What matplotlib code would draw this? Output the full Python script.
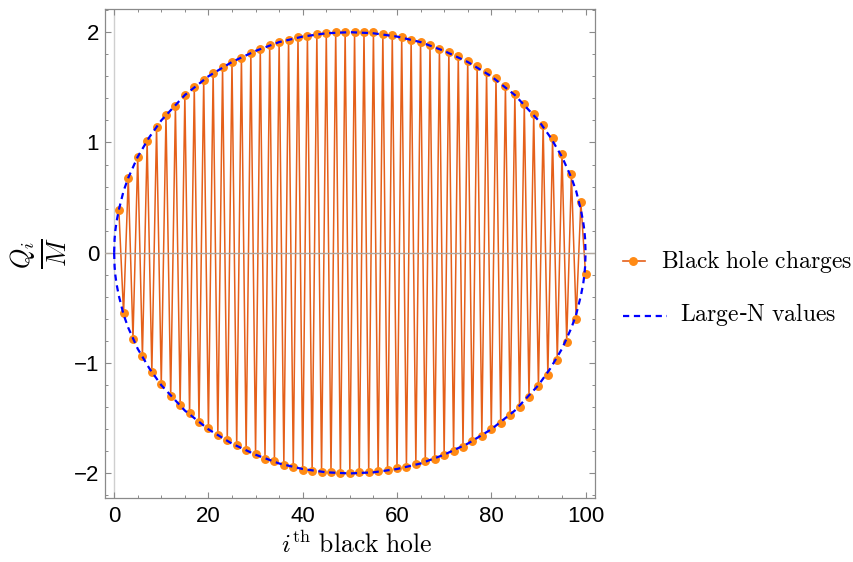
import matplotlib
matplotlib.use("Agg")
import matplotlib.pyplot as plt
from matplotlib.lines import Line2D
from matplotlib.ticker import MultipleLocator

plt.rcParams['mathtext.fontset'] = 'cm'
plt.rcParams['axes.unicode_minus'] = True

# Black hole index and charges Q_i/M
index = list(range(1, 101))
charges = [
    0.39, -0.55, 0.68, -0.78, 0.87, -0.94, 1.01, -1.08, 1.14, -1.19,
    1.25, -1.30, 1.33, -1.38, 1.43, -1.455, 1.50, -1.53, 1.57, -1.59,
    1.63, -1.65, 1.68, -1.70, 1.73, -1.745, 1.77, -1.79, 1.81, -1.825,
    1.845, -1.865, 1.88, -1.89, 1.91, -1.92, 1.93, -1.945, 1.96, -1.965,
    1.965, -1.98, 1.98, -1.99, 1.99, -1.99, 2.0, -1.995, 2.0, -1.995,
    2.0, -1.99, 2.0, -1.99, 2.0, -1.98, 1.985, -1.97, 1.97, -1.955,
    1.955, -1.94, 1.93, -1.915, 1.91, -1.89, 1.88, -1.865, 1.85, -1.835,
    1.82, -1.80, 1.78, -1.76, 1.74, -1.71, 1.69, -1.66, 1.64, -1.60,
    1.58, -1.54, 1.51, -1.47, 1.435, -1.40, 1.35, -1.31, 1.26, -1.21,
    1.16, -1.11, 1.04, -0.97, 0.90, -0.805, 0.715, -0.60, 0.46, -0.196,
]

# Large-N envelope (upper branch); lower branch is its mirror
large_n_x = [0, 0.1, 0.25, 0.5, 1, 2, 3, 5, 7.5, 10, 15, 20, 25, 30, 35, 40, 45, 50,
             55, 60, 65, 70, 75, 80, 85, 90, 92.5, 95, 97, 98, 99, 99.5, 99.75, 99.9, 100]
large_n_y = [0, 0.126, 0.20, 0.28, 0.39, 0.56, 0.68, 0.87, 1.05, 1.20, 1.43, 1.60, 1.73,
             1.83, 1.91, 1.96, 1.99, 2.0, 1.99, 1.96, 1.91, 1.83, 1.73, 1.60, 1.43, 1.20,
             1.05, 0.87, 0.68, 0.56, 0.39, 0.28, 0.20, 0.126, 0]

x_ticks = [0, 20, 40, 60, 80, 100]
y_ticks = [-2, -1, 0, 1, 2]

fig = plt.figure(figsize=(8.54, 5.62), dpi=100)
ax = fig.add_axes([104.7 / 854, 1 - 497.7 / 562, (595 - 104.7) / 854, (497.7 - 9) / 562])

line_col = '#E5601A'
mark_col = '#FF8A14'
frame_col = '#8a8a8a'
dash = (0, (2.8, 2.1))

# axes lines (Mathematica style)
ax.axvline(0, color='#cfcfcf', lw=1.0, zorder=1)
ax.plot(index, charges, color=line_col, lw=1.1, zorder=2)
ax.axhline(0, color='#b0a8a0', lw=1.0, zorder=3)
ax.plot(index, charges, ls='none', marker='o', ms=5.4, color=mark_col, mec=mark_col, zorder=4)
ax.plot(large_n_x, large_n_y, color='#0000FF', lw=1.6, ls=dash, zorder=5)
ax.plot(large_n_x, [-v for v in large_n_y], color='#0000FF', lw=1.6, ls=dash, zorder=5)

ax.set_xlim(-2.0, 102.0)
ax.set_ylim(-2.22, 2.21)
ax.set_xticks(x_ticks)
ax.set_yticks(y_ticks)
ax.xaxis.set_minor_locator(MultipleLocator(5))
ax.yaxis.set_minor_locator(MultipleLocator(0.2))
for s in ax.spines.values():
    s.set_color(frame_col)
    s.set_linewidth(0.9)
ax.tick_params(which='both', direction='in', top=True, right=True, color=frame_col,
               labelsize=16, labelcolor='black')
ax.tick_params(which='major', length=4, width=0.8)
ax.tick_params(which='minor', length=2.2, width=0.7)
ax.tick_params(axis='y', pad=4)
ax.tick_params(axis='x', pad=6)
for lab in ax.get_xticklabels() + ax.get_yticklabels():
    lab.set_fontfamily('Liberation Sans')

fig.text(357 / 854, 1 - 545 / 562, r'$i^{\mathrm{th}}\ \mathrm{black\ hole}$', ha='center', va='center',
         fontsize=18.5)
fig.text(39 / 854, 1 - 253 / 562, r'$\frac{Q_i}{M}$', ha='center', va='center', rotation=90,
         fontsize=27)

# manual legend
fig.add_artist(Line2D([623 / 854, 645 / 854], [1 - 261 / 562] * 2, color=line_col, lw=1.2))
fig.add_artist(Line2D([633 / 854], [1 - 261 / 562], marker='o', ms=5.4, color=mark_col, ls='none'))
fig.text(661 / 854, 1 - 262 / 562, r'$\mathrm{Black\ hole\ charges}$', ha='left', va='center', fontsize=17)
fig.add_artist(Line2D([623 / 854, 667 / 854], [1 - 316 / 562] * 2, color='#0000FF', lw=1.6, ls=dash))
fig.text(680 / 854, 1 - 315 / 562, r'$\mathrm{Large}$-$\mathrm{N\ values}$', ha='left', va='center', fontsize=17)

fig.savefig('out.png', dpi=100)
